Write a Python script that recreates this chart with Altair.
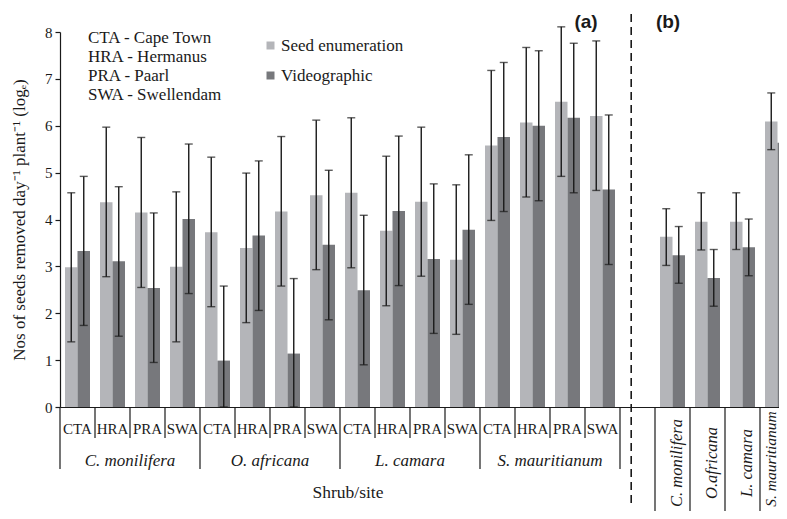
import altair as alt
import pandas as pd

# ---------------- data ----------------
species = ["C. monilifera", "O. africana", "L. camara", "S. mauritianum"]
sites = ["CTA", "HRA", "PRA", "SWA"]
methods = ["Seed enumeration", "Videographic"]
site_legend = ["CTA - Cape Town", "HRA - Hermanus", "PRA - Paarl", "SWA - Swellendam"]

# panel (a): order = species x sites
seed_a = [2.98, 4.37, 4.15, 2.99, 3.73, 3.39, 4.17, 4.52, 4.57, 3.76, 4.38, 3.14, 5.58, 6.07, 6.51, 6.21]
seed_a_lo = [1.39, 2.78, 2.55, 1.39, 2.14, 1.80, 2.58, 2.93, 2.97, 2.16, 2.79, 1.55, 3.98, 4.48, 4.92, 4.62]
seed_a_hi = [4.57, 5.97, 5.75, 4.59, 5.33, 4.99, 5.77, 6.12, 6.17, 5.35, 5.97, 4.74, 7.18, 7.67, 8.11, 7.81]
video_a = [3.33, 3.11, 2.54, 4.01, 0.99, 3.66, 1.14, 3.46, 2.49, 4.18, 3.16, 3.78, 5.76, 6.00, 6.17, 4.64]
video_a_lo = [1.74, 1.51, 0.95, 2.42, 0.0, 2.06, 0.0, 1.86, 0.90, 2.59, 1.57, 2.19, 4.17, 4.40, 4.57, 3.04]
video_a_hi = [4.92, 4.70, 4.14, 5.61, 2.58, 5.25, 2.74, 5.05, 4.09, 5.78, 4.76, 5.38, 7.35, 7.60, 7.76, 6.23]

# panel (b)
species_b = ["C. monilifera", "O.africana", "L. camara", "S. mauritianum"]
seed_b = [3.63, 3.95, 3.95, 6.09]
seed_b_lo = [3.02, 3.35, 3.36, 5.49]
seed_b_hi = [4.23, 4.57, 4.57, 6.70]
video_b = [3.24, 2.75, 3.41, 5.64]
video_b_lo = [2.64, 2.15, 2.80, 5.04]
video_b_hi = [3.85, 3.36, 4.01, 6.24]

y_title = "Nos of seeds removed day\u207b\u00b9 plant\u207b\u00b9 (log\u2091)"

# ---------------- tables ----------------
slots_a = [f"{sp}|{st}" for sp in species for st in sites]
slots_b = [f"b|{sp}" for sp in species_b]
slots = slots_a + ["gap"] + slots_b

rows = []
for i, key in enumerate(slots_a):
    rows.append(dict(slot=key, method=methods[0], value=seed_a[i], lo=seed_a_lo[i], hi=seed_a_hi[i]))
    rows.append(dict(slot=key, method=methods[1], value=video_a[i], lo=video_a_lo[i], hi=video_a_hi[i]))
for j, key in enumerate(slots_b):
    rows.append(dict(slot=key, method=methods[0], value=seed_b[j], lo=seed_b_lo[j], hi=seed_b_hi[j]))
    rows.append(dict(slot=key, method=methods[1], value=video_b[j], lo=video_b_lo[j], hi=video_b_hi[j]))
df = pd.DataFrame(rows)

div_rows = []
for i, key in enumerate(slots):
    if i >= len(slots_a) + 1:
        kind = "panel"
    elif i % 4 == 0:
        kind = "species"
    else:
        kind = "site"
    div_rows.append(dict(slot=key, kind=kind))
div_df = pd.DataFrame(div_rows)

site_df = pd.DataFrame([dict(slot=k, label=k.split("|")[1]) for k in slots_a])
spec_df = pd.DataFrame([dict(slot=f"{sp}|HRA", label=sp) for sp in species])
specb_df = pd.DataFrame([dict(slot=k, label=k.split("|")[1], last=(k == slots_b[-1])) for k in slots_b])
gap_df = pd.DataFrame([dict(slot="gap")])

# ---------------- styling ----------------
SERIF = "Liberation Serif"
INK = "#1a1a1a"
LIGHT = "#b4b5b9"
DARK = "#77787c"
W = 35 * len(slots)
H = 375
PAD_L, PAD_T, PAD_B = 52, 24, 104
SVG_W = 771

xscale = alt.Scale(domain=slots, paddingInner=0, paddingOuter=0)
x_axis = alt.Axis(labels=False, ticks=False, title=None, domainColor=INK, domainWidth=1.2, grid=False)
yscale = alt.Scale(domain=[0, 8], nice=False)
y_axis = alt.Axis(
    values=list(range(9)), title=y_title, grid=False,
    labelFont=SERIF, labelFontSize=15, labelColor=INK, labelPadding=3,
    tickColor=INK, tickSize=5, tickWidth=1.2, domainColor=INK, domainWidth=1.2,
    titleFont=SERIF, titleFontSize=17, titleFontWeight="normal", titleColor=INK,
    titleX=-41, titleY=H / 2, titleBaseline="middle", titleAngle=270,
)


def X(band=0.5):
    return alt.X("slot:N", scale=xscale, axis=x_axis, bandPosition=band)


xoff = alt.XOffset("method:N", scale=alt.Scale(domain=methods, paddingOuter=0.4, paddingInner=0))

base = alt.Chart(df)

bars = base.mark_bar().encode(
    x=alt.X("slot:N", scale=xscale, axis=x_axis),
    xOffset=xoff,
    y=alt.Y("value:Q", scale=yscale, axis=y_axis),
    color=alt.Color(
        "method:N",
        scale=alt.Scale(domain=methods, range=[LIGHT, DARK]),
        legend=alt.Legend(
            title=None, orient="none", legendX=202, legendY=5,
            symbolType="square", symbolSize=64, symbolStrokeWidth=0,
            labelFont=SERIF, labelFontSize=17, labelColor=INK,
            rowPadding=12, labelOffset=2, padding=0,
        ),
    ),
)

err = base.mark_rule(color=INK, strokeWidth=1.4).encode(
    x=alt.X("slot:N", scale=xscale, axis=x_axis),
    xOffset=xoff,
    y=alt.Y("lo:Q", scale=yscale, axis=y_axis),
    y2="hi:Q",
)
cap_hi = base.mark_tick(color=INK, thickness=1.4, size=8, orient="horizontal").encode(
    x=alt.X("slot:N", scale=xscale, axis=x_axis),
    xOffset=xoff,
    y=alt.Y("hi:Q", scale=yscale, axis=y_axis),
)
cap_lo = base.mark_tick(color=INK, thickness=1.4, size=8, orient="horizontal").encode(
    x=alt.X("slot:N", scale=xscale, axis=x_axis),
    xOffset=xoff,
    y=alt.Y("lo:Q", scale=yscale, axis=y_axis),
)

div_base = alt.Chart(div_df)
div_site = div_base.transform_filter(alt.datum.kind == "site").mark_rule(color=INK, strokeWidth=1.2).encode(
    x=X(0), y=alt.value(H), y2=alt.value(H + 31))
div_spec = div_base.transform_filter(alt.datum.kind == "species").mark_rule(color=INK, strokeWidth=1.2).encode(
    x=X(0), y=alt.value(H), y2=alt.value(H + 62))
div_panel = div_base.transform_filter(alt.datum.kind == "panel").mark_rule(color=INK, strokeWidth=1.2).encode(
    x=X(0), y=alt.value(H), y2=alt.value(H + 125))

site_text = alt.Chart(site_df).mark_text(font=SERIF, fontSize=15, color=INK, baseline="middle").encode(
    x=X(0.5), y=alt.value(H + 22), text="label:N")
spec_text = alt.Chart(spec_df).mark_text(font=SERIF, fontSize=17, fontStyle="italic", color=INK, baseline="middle").encode(
    x=X(1), y=alt.value(H + 54), text="label:N")

specb_mark = dict(font=SERIF, fontStyle="italic", color=INK, baseline="middle", align="center", angle=270)
specb_text = alt.Chart(specb_df).transform_filter("!datum.last").mark_text(fontSize=16.5, **specb_mark).encode(
    x=X(0.63), y=alt.value(H + 56), text="label:N")
specb_last = alt.Chart(specb_df).transform_filter("datum.last").mark_text(fontSize=15.5, **specb_mark).encode(
    x=X(0.3), y=alt.value(H + 52), text="label:N")

dash = alt.Chart(gap_df).mark_rule(color=INK, strokeWidth=1.6, strokeDash=[8, 5]).encode(
    x=X(0.32), y=alt.value(-18), y2=alt.value(472))

shrub = alt.Chart(gap_df).mark_text(font=SERIF, fontSize=17.5, color=INK, baseline="middle").encode(
    x=alt.value(288), y=alt.value(H + 86), text=alt.value("Shrub/site"))

site_leg = alt.Chart(gap_df).mark_text(
    font=SERIF, fontSize=17, color=INK, align="left", baseline="alphabetic", lineHeight=19
).encode(x=alt.value(28), y=alt.value(10.5), text=alt.value(site_legend))

lab_a = alt.Chart(gap_df).mark_text(font="Liberation Sans", fontWeight="bold", fontSize=19, color=INK, baseline="middle").encode(
    x=alt.value(526), y=alt.value(-10), text=alt.value("(a)"))
lab_b = alt.Chart(gap_df).mark_text(font="Liberation Sans", fontWeight="bold", fontSize=19, color=INK, baseline="middle").encode(
    x=alt.value(608), y=alt.value(-10), text=alt.value("(b)"))

chart = alt.layer(
    bars, err, cap_hi, cap_lo, div_site, div_spec, div_panel,
    site_text, spec_text, specb_text, specb_last, dash, shrub, site_leg, lab_a, lab_b,
).properties(
    width=W, height=H,
    background="white",
    autosize=alt.AutoSizeParams(type="none"),
    padding={"left": PAD_L, "top": PAD_T, "right": SVG_W - PAD_L - W, "bottom": PAD_B},
).configure_view(stroke=None)

chart.save("out.html", embed_options={"renderer": "svg", "actions": False})
